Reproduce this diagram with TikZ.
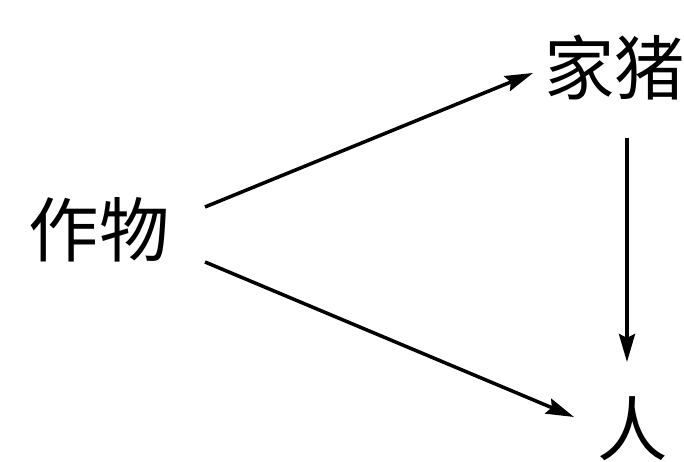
\documentclass[tikz,border=0pt]{standalone}
\usepackage{fontspec}
\newfontfamily\cjk{Noto Sans CJK SC}
\usetikzlibrary{calc,arrows.meta}
\begin{document}
\begin{tikzpicture}[x=0.01cm,y=-0.01cm,
  lbl/.style={inner sep=0pt,font=\cjk\fontsize{20}{20}\selectfont},
  arr/.style={line width=1pt,-{Stealth[length=0.28cm,width=0.16cm,inset=0.04cm]}}]
\useasboundingbox[fill=white] (0,0) rectangle (684,462);
\node[lbl] (zw) at (99,230) {作物};
\node[lbl] (jz) at (615,68) {家猪};
\node[lbl] (ren) at (633,429) {人};
\draw[arr] ($(zw)+(106,-23)$) -- ($(jz)+(-82,5)$);
\draw[arr] ($(zw)+(106,32)$) -- ($(ren)+(-59,-12)$);
\draw[arr] ($(jz)+(12,70)$) -- ($(ren)+(-6,-67)$);
\end{tikzpicture}
\end{document}
